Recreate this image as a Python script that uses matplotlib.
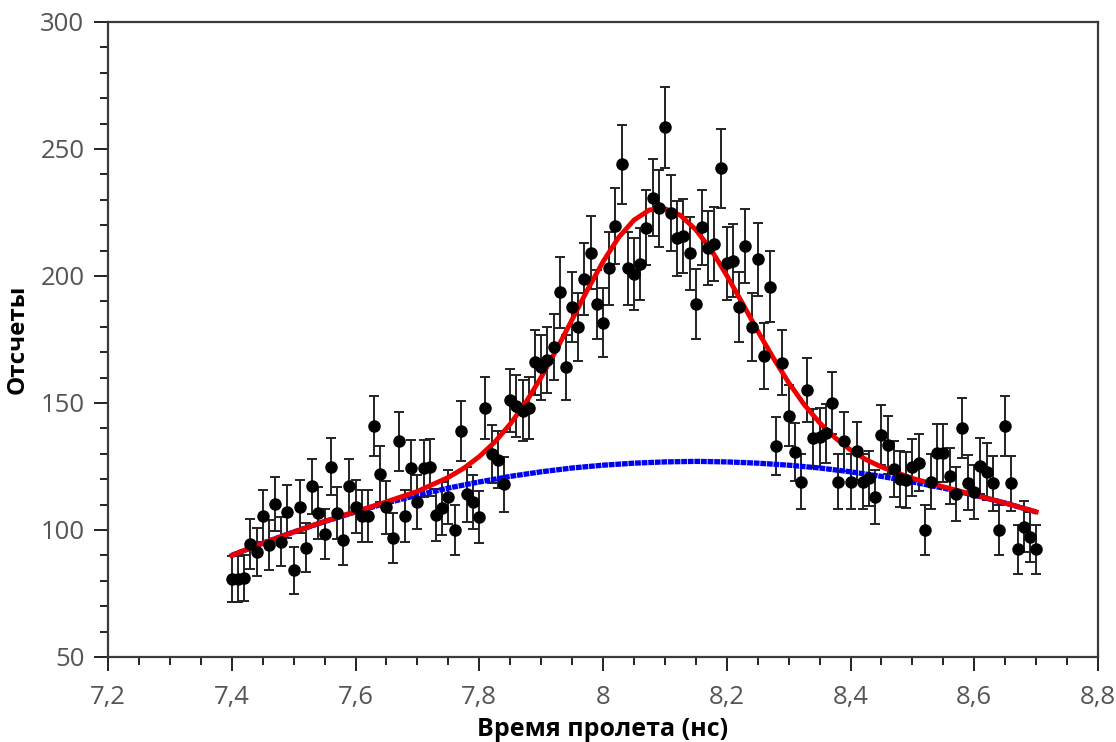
import numpy as np
import matplotlib
matplotlib.use('Agg')
import matplotlib.pyplot as plt
from matplotlib.ticker import MultipleLocator

plt.rcParams['font.family'] = ['Open Sans', 'DejaVu Sans']

# time bins (ns), one every 0.01 ns
time_ns = np.round(np.arange(7.40, 8.705, 0.01), 2)

counts = [80.6, 80.6, 81, 94.5, 91.3, 105.4, 94.1, 110.2, 95.4, 107.2,
          84.1, 109.1, 93, 117.3, 106.6, 98.3, 124.9, 106.6, 96, 117.3,
          109.2, 105.5, 105.5, 141, 122, 109, 97, 135, 105.5, 124.3,
          111, 124.3, 124.7, 106, 108.5, 113, 100, 139, 114, 111,
          105, 148, 130, 127.7, 118, 151, 149, 147, 148, 166,
          164, 167, 172, 193.6, 164, 187.7, 179.8, 198.7, 209.2, 188.8,
          181.6, 203, 219.7, 244, 203, 200.8, 204.7, 219, 230.8, 226.6,
          258.5, 224.7, 214.8, 215.7, 208.9, 189, 219.2, 210.9, 212.6, 242.4,
          205, 206, 187.7, 211.8, 179.8, 206.6, 168.5, 195.8, 133.1, 165.9,
          144.9, 130.8, 119, 155.1, 136.1, 136.5, 138, 149.9, 119, 135,
          119, 131.2, 119, 120.3, 113.1, 137.4, 133.5, 124, 120, 119.7,
          124.7, 126.5, 100, 119, 130.4, 130.4, 121.3, 114.2, 140.3, 118.6,
          115, 125.2, 123, 118.4, 100, 141, 118.4, 92.4, 101.3, 97.4,
          92.4]
counts = np.array(counts)
errors = np.sqrt(counts)  # poisson

# background fit (blue)
bg_x = [7.40, 7.45, 7.50, 7.55, 7.60, 7.65, 7.70, 7.75, 7.80, 7.85, 7.90, 7.95, 8.00, 8.05,
        8.10, 8.15, 8.20, 8.25, 8.30, 8.35, 8.40, 8.45, 8.50, 8.55, 8.60, 8.65, 8.70]
bg_y = [90.0, 94.8, 99.2, 103.3, 107.1, 110.6, 113.7, 116.5, 118.9, 121.1, 122.9, 124.4, 125.5, 126.3,
        126.8, 127.0, 126.8, 126.3, 125.5, 124.4, 122.9, 121.1, 118.9, 116.5, 113.7, 110.6, 107.1]

# total fit (red)
fit_x = [7.40, 7.45, 7.50, 7.55, 7.60, 7.65, 7.70, 7.75, 7.775, 7.80, 7.825, 7.85, 7.875, 7.90,
         7.925, 7.95, 7.975, 8.00, 8.025, 8.05, 8.075, 8.10, 8.125, 8.15, 8.175, 8.20, 8.225,
         8.25, 8.275, 8.30, 8.325, 8.35, 8.375, 8.40, 8.425, 8.45, 8.50, 8.55, 8.60, 8.65, 8.70]
fit_y = [90.0, 94.8, 99.2, 103.4, 107.2, 111.1, 115.2, 120.7, 124.3, 128.9, 134.6, 141.7, 150.1, 160.1,
         171.1, 182.8, 194.6, 205.6, 215.1, 222.0, 226.0, 226.5, 223.9, 218.2, 210.2, 200.2, 189.4,
         178.3, 167.8, 158.0, 149.4, 142.2, 136.3, 131.5, 127.7, 124.8, 120.3, 117.0, 113.8, 110.6, 107.1]

xticks = [7.2, 7.4, 7.6, 7.8, 8.0, 8.2, 8.4, 8.6, 8.8]
xtick_labels = ['7,2', '7,4', '7,6', '7,8', '8', '8,2', '8,4', '8,6', '8,8']
yticks = [50, 100, 150, 200, 250, 300]

fig = plt.figure(figsize=(11.16, 7.42), dpi=100)
ax = fig.add_axes([0.0968, 0.1146, 0.8871, 0.8558])

ax.errorbar(time_ns, counts, yerr=errors, fmt='none', ecolor='#222222',
            elinewidth=1.4, capsize=3.8, capthick=1.4, zorder=2)
ax.plot(bg_x, bg_y, color='#0000f0', lw=3.8, ls=(0, (1.1, 0.15)), zorder=3)
ax.plot(fit_x, fit_y, color='#ee0000', lw=3.5, solid_joinstyle='round', zorder=4)
ax.plot(time_ns, counts, 'o', color='black', ms=8, zorder=5)

ax.set_xlim(7.2, 8.8)
ax.set_ylim(50, 300)
ax.set_xticks(xticks)
ax.set_xticklabels(xtick_labels)
ax.set_yticks(yticks)
ax.xaxis.set_minor_locator(MultipleLocator(0.05))
ax.yaxis.set_minor_locator(MultipleLocator(10))

for s in ax.spines.values():
    s.set_color('#3a3a3a')
    s.set_linewidth(1.6)

ax.tick_params(which='major', direction='out', length=10, width=1.4, color='#222222',
               labelsize=18.5, labelcolor='#555555', pad=7)
ax.tick_params(which='minor', direction='out', length=6, width=1.4, color='#222222')
ax.tick_params(axis='x', which='major', pad=10)

ax.set_xlabel('Время пролета (нс)', fontsize=18, fontweight='bold', labelpad=5)
ax.set_ylabel('Отсчеты', fontsize=17.5, fontweight='bold', labelpad=8)

fig.savefig('out.png', dpi=100)
